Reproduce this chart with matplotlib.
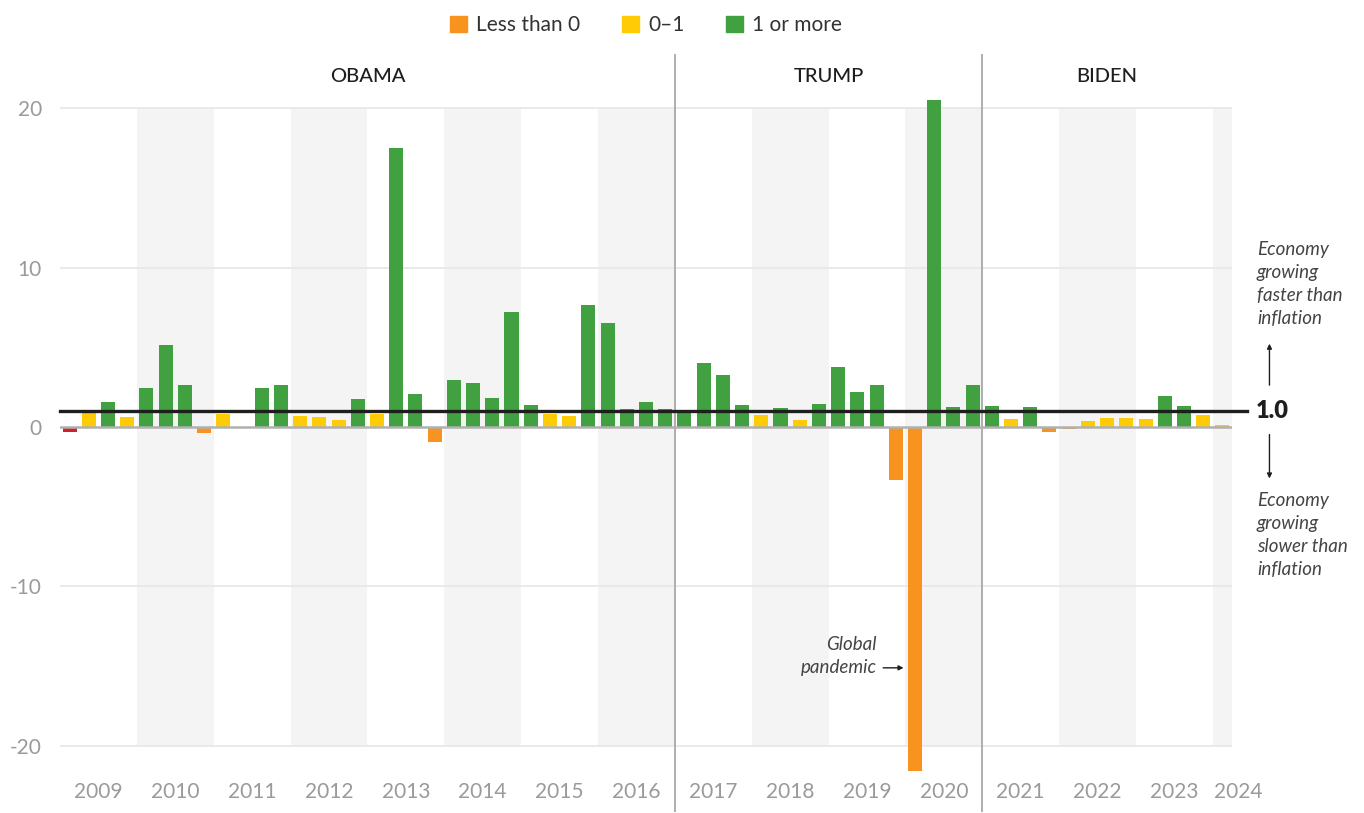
import matplotlib
matplotlib.use("Agg")
import matplotlib.pyplot as plt
from matplotlib.patches import Patch

plt.rcParams['font.family'] = ['Lato', 'DejaVu Sans']

# quarterly values, 2009 Q1 .. 2024 Q1
years = list(range(2009, 2025))
values = [
    -0.3, 0.88, 1.57, 0.63,     # 2009
    2.45, 5.14, 2.63, -0.38,    # 2010
    0.82, 0.0, 2.45, 2.63,      # 2011
    0.69, 0.63, 0.44, 1.76,     # 2012
    0.82, 17.5, 2.07, -0.94,    # 2013
    2.95, 2.76, 1.82, 7.21,     # 2014
    1.38, 0.82, 0.69, 7.65,     # 2015
    6.52, 1.13, 1.57, 1.13,     # 2016
    1.02, 4.01, 3.26, 1.38,     # 2017
    0.75, 1.19, 0.44, 1.44,     # 2018
    3.76, 2.19, 2.63, -3.3,     # 2019
    -21.6, 20.5, 1.25, 2.63,    # 2020
    1.32, 0.5, 1.25, -0.31,     # 2021
    -0.13, 0.38, 0.56, 0.56,    # 2022
    0.5, 1.94, 1.32, 0.75,      # 2023
    0.13,                       # 2024
]
presidents = ["OBAMA", "TRUMP", "BIDEN"]
terms = [(2009, 2017), (2017, 2021), (2021, 2024.25)]
legend_labels = ["Less than 0", "0\u20131", "1 or more"]
yticks = [-20, -10, 0, 10, 20]

ORANGE = "#f7931e"
YELLOW = "#ffcb05"
GREEN = "#41a03f"
RED = "#d0202b"


def bar_color(v):
    if v < 0:
        return ORANGE
    if v < 1:
        return YELLOW
    return GREEN


def qx(year):
    # year boundary -> x position (bars sit at integers)
    return (year - 2009) * 4 - 0.5


colors = [bar_color(v) for v in values]
colors[0] = RED  # first quarter drawn in red in the original

fig = plt.figure(figsize=(13.64, 8.13), dpi=100)
ax = fig.add_axes([60 / 1364, 1 / 813, 1172 / 1364, 758 / 813])
ax.set_xlim(-0.5, len(values) - 0.5)
ax.set_ylim(-24.14, 23.39)
for s in ax.spines.values():
    s.set_visible(False)

# shaded even years
for y in years:
    if (y - 2009) % 2 == 1:
        x0 = qx(y)
        x1 = min(qx(y + 1), len(values) - 0.5)
        ax.fill_between([x0, x1], -20, 20, color="#f4f4f4", lw=0, zorder=0)

# grid
for t in yticks:
    if t == 0:
        continue
    ax.plot([-0.5, len(values) - 0.5], [t, t], color="#e8e8e8", lw=1.3, zorder=1)

xs = list(range(len(values)))
ax.bar(xs, values, width=0.73, color=colors, zorder=3)

ax.plot([-0.5, len(values) - 0.5], [0, 0], color="#b0b0b0", lw=1.8, zorder=4)
ax.plot([-0.5, 61.3], [1, 1], color="#1e1e1e", lw=2.4, zorder=5, clip_on=False)

# presidential terms
for name, (a, b) in zip(presidents, terms):
    x0 = qx(a)
    x1 = min(qx(b), len(values) - 0.5)
    if a > 2009:
        ax.axvline(x0, color="#a8a8a8", lw=1.3, zorder=2)
    ax.text((x0 + x1) / 2, 22.0, name, ha="center", va="center",
            fontsize=14.5, fontweight="medium", color="#1e1e1e")

ax.set_yticks(yticks)
ax.set_yticklabels([str(t) for t in yticks])
ax.tick_params(axis="y", length=0, pad=13, labelsize=15, labelcolor="#9a9a9a")
ax.set_xticks([])

for y in years:
    if y < 2024:
        ax.text(qx(y) + 2, -22.88, str(y), ha="center", va="center",
                fontsize=15, color="#9a9a9a")
    else:
        ax.text(qx(y) + 0.05, -22.88, str(y), ha="left", va="center",
                fontsize=15, color="#9a9a9a", clip_on=False)

# right side notes
ax.text(61.75, 1.0, "1.0", ha="left", va="center", fontsize=17,
        fontweight="heavy", color="#1e1e1e", clip_on=False)
ax.annotate("", xy=(62.45, 5.4), xytext=(62.45, 2.45),
            arrowprops=dict(arrowstyle="-|>", color="#1e1e1e", lw=1,
                            mutation_scale=7), annotation_clip=False)
ax.annotate("", xy=(62.45, -3.4), xytext=(62.45, -0.3),
            arrowprops=dict(arrowstyle="-|>", color="#1e1e1e", lw=1,
                            mutation_scale=7), annotation_clip=False)
ax.text(61.8, 8.97, "Economy\ngrowing\nfaster than\ninflation", ha="left",
        va="center", fontsize=13.5, style="italic", color="#444444",
        linespacing=1.42, clip_on=False)
ax.text(61.8, -6.77, "Economy\ngrowing\nslower than\ninflation", ha="left",
        va="center", fontsize=13.5, style="italic", color="#444444",
        linespacing=1.42, clip_on=False)

# pandemic note
ax.text(42.0, -14.36, "Global\npandemic", ha="right", va="center",
        fontsize=13.5, style="italic", color="#444444", linespacing=1.42)
ax.annotate("", xy=(43.55, -15.1), xytext=(42.2, -15.1),
            arrowprops=dict(arrowstyle="-|>", color="#1e1e1e", lw=1,
                            mutation_scale=7))

handles = [Patch(color=c) for c in (ORANGE, YELLOW, GREEN)]
fig.legend(handles, legend_labels, loc="center", bbox_to_anchor=(646 / 1364, 1 - 25 / 813),
           ncol=3, frameon=False, fontsize=15, handlelength=0.8, handleheight=0.8,
           handletextpad=0.45, columnspacing=2.0, labelcolor="#333333")

fig.savefig("out.png", dpi=100)
